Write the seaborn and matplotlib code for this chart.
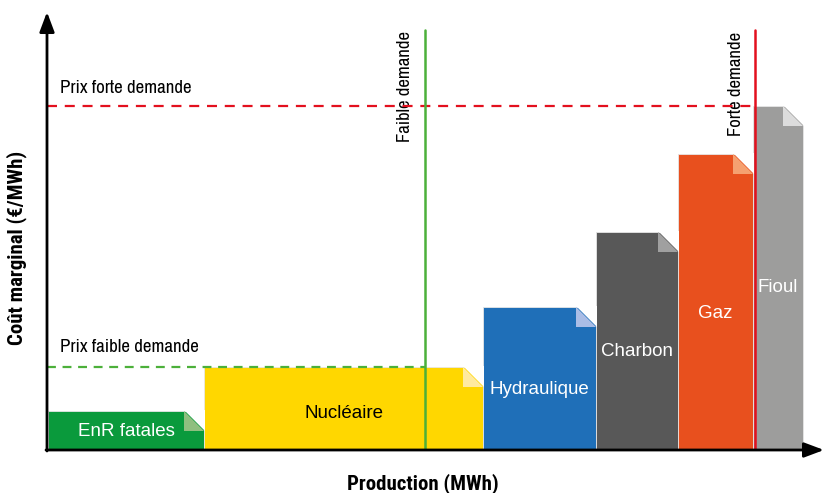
import seaborn as sns
import matplotlib.pyplot as plt
from matplotlib.patches import Polygon

# Merit order: filières, capacités (largeur) et coûts marginaux (hauteur)
filieres = ['EnR fatales', 'Nucléaire', 'Hydraulique', 'Charbon', 'Gaz', 'Fioul']
capacites = [156, 279, 113, 82, 75, 50]
couts = [39, 83, 143, 218, 296, 344]
couleurs = ['#0a9a3c', '#ffd700', '#1f6fb8', '#585858', '#e8501e', '#9d9d9c']
plis = ['#8fbf7f', '#ffeaa0', '#aabde6', '#a0a0a0', '#f5a070', '#dcdcdc']
texte_couleurs = ['white', 'black', 'white', 'white', 'white', 'white']
label_y = [19, 36, 60, 98, 137, 162]

prix_faible = 83
prix_forte = 344
demande_faible = 378
demande_forte = 708

sns.set_style('white')
plt.rcParams['font.family'] = ['Liberation Sans', 'DejaVu Sans']
plt.rcParams['text.color'] = 'black'
narrow = ['Archivo Narrow', 'IBM Plex Sans Condensed', 'DejaVu Sans']
narrow_bold = ['Roboto Condensed', 'IBM Plex Sans Condensed', 'DejaVu Sans']

fig = plt.figure(figsize=(8.24, 4.93), dpi=100)
ax = fig.add_axes([47 / 824, 43 / 493, 775 / 824, 438 / 493])
ax.set_xlim(0, 775)
ax.set_ylim(0, 438)
ax.axis('off')

# barres avec coin replié
x0 = 1
pli = 20
for nom, w, h, c, cp, tc, ly in zip(filieres, capacites, couts, couleurs, plis, texte_couleurs, label_y):
    ax.bar(x0, h, width=w, align='edge', color=c, edgecolor='#e6e6e6', linewidth=0.6, zorder=2)
    x1 = x0 + w
    ax.add_patch(Polygon([(x1 - pli, h + 1), (x1 + 0.5, h + 1), (x1 + 0.5, h - pli)],
                         closed=True, facecolor='white', edgecolor='none', zorder=3))
    ax.add_patch(Polygon([(x1 - pli, h), (x1 - pli, h - pli), (x1, h - pli)],
                         closed=True, facecolor=cp, edgecolor='none', zorder=3))
    ax.text(x0 + w / 2, ly, nom, color=tc, fontsize=13.5, ha='center', va='center', zorder=4)
    x0 = x1

# prix et demandes
ax.plot([0, demande_forte - 2], [prix_forte, prix_forte], color='#e3101e', lw=1.6,
        dashes=(4.5, 3.5), zorder=5)
ax.plot([0, demande_faible], [prix_faible, prix_faible], color='#4cb03a', lw=1.6,
        dashes=(4, 3), zorder=5)
ax.plot([demande_faible, demande_faible], [0, 420], color='#4cb03a', lw=1.8, zorder=5)
ax.plot([demande_forte, demande_forte], [0, 420], color='#e3101e', lw=1.8, zorder=5)

ax.text(13, 362, 'Prix forte demande', fontsize=13.6, family=narrow, va='center')
ax.text(13, 103, 'Prix faible demande', fontsize=13.6, family=narrow, va='center')
ax.text(358, 364, 'Faible demande', fontsize=13.5, family=narrow, rotation=90,
        ha='center', va='center')
ax.text(689, 366, 'Forte demande', fontsize=13.5, family=narrow, rotation=90,
        ha='center', va='center')

# axes fléchés
ax.annotate('', xy=(0, 438), xytext=(0, -1), annotation_clip=False,
            arrowprops=dict(arrowstyle='-|>,head_length=1.2,head_width=0.45',
                            color='black', lw=2, shrinkA=0, shrinkB=0), zorder=6)
ax.annotate('', xy=(777, 0), xytext=(-1, 0), annotation_clip=False,
            arrowprops=dict(arrowstyle='-|>,head_length=1.2,head_width=0.45',
                            color='black', lw=2, shrinkA=0, shrinkB=0), zorder=6)

fig.text(17 / 824, 1 - 248 / 493, 'Coût marginal (€/MWh)', rotation=90, fontsize=15,
         fontweight='bold', family=narrow_bold, ha='center', va='center')
fig.text(423 / 824, 1 - 484 / 493, 'Production (MWh)', fontsize=15,
         fontweight='bold', family=narrow_bold, ha='center', va='center')

fig.savefig('out.png', dpi=100)
